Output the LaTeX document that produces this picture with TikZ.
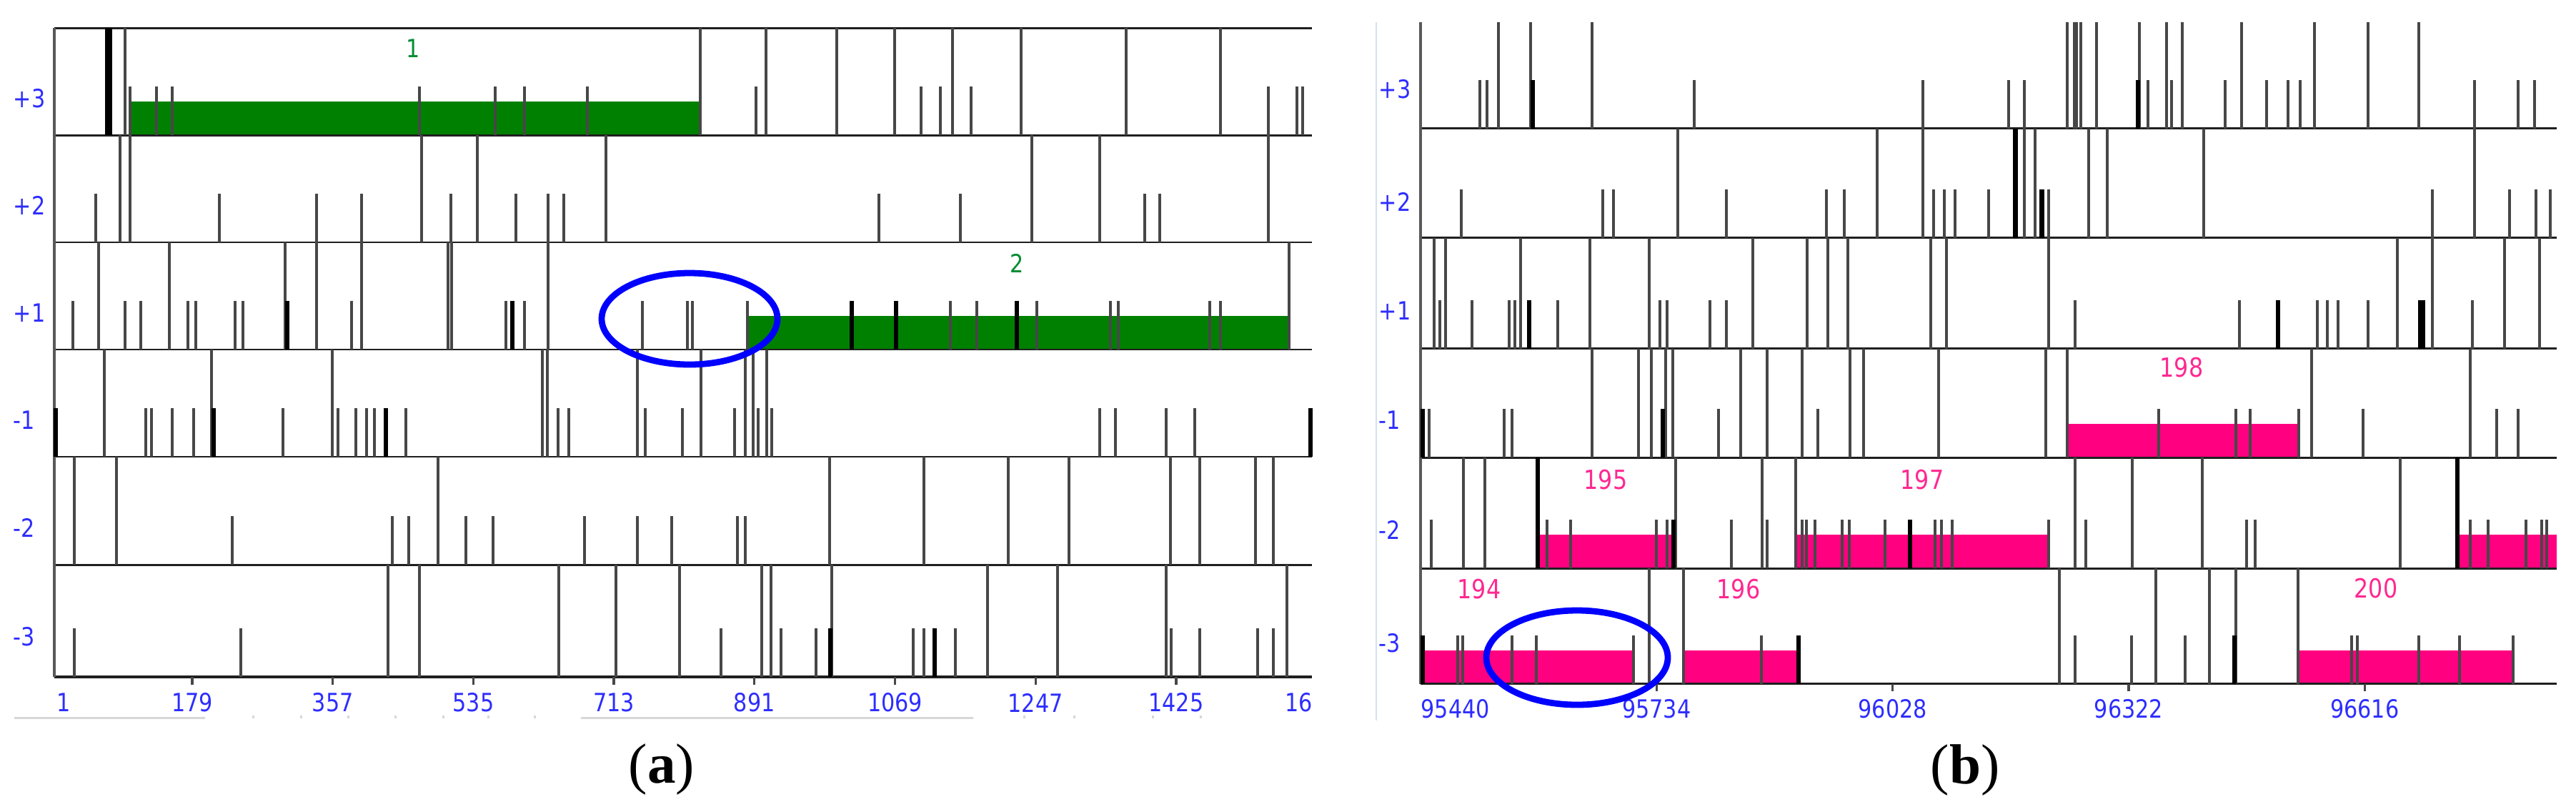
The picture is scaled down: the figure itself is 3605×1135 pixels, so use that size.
\documentclass[tikz,border=0pt]{standalone}
\usepackage{fontspec}
\setmainfont{Liberation Serif}
\newfontfamily\labfont[FakeStretch=0.86]{DejaVu Sans}
\definecolor{axblue}{RGB}{45,45,255}
\definecolor{barpink}{RGB}{255,0,128}
\definecolor{txtpink}{RGB}{255,40,145}
\definecolor{bargreen}{RGB}{0,128,0}
\definecolor{txtgreen}{RGB}{0,140,50}
\definecolor{scrollgrey}{RGB}{215,215,215}
\definecolor{paleblue}{RGB}{210,226,242}
\newcommand\Tall[3]{\foreach \xx in {#3} {\draw[tk] (\xx,#1) -- (\xx,#2);}}
\newcommand\TallK[3]{\foreach \xx in {#3} {\draw[thk] (\xx,#1) -- (\xx,#2);}}
\newcommand\Short[2]{\foreach \xx in {#2} {\draw[tk] (\xx,{#1-68}) -- (\xx,#1);}}
\newcommand\ShortK[2]{\foreach \xx in {#2} {\draw[thk] (\xx,{#1-68}) -- (\xx,#1);}}
\begin{document}
\begin{tikzpicture}[x=0.1mm,y=-0.1mm,
  tk/.style={line width=0.95pt,draw=black!72},
  thk/.style={line width=1.6pt,draw=black},
  rowline/.style={line width=0.8pt,draw=black!88},
  axisline/.style={line width=1pt,draw=black!88},
  axl/.style={font=\labfont\fontsize{10}{12}\selectfont,text=axblue,inner sep=0pt},
  pinkl/.style={font=\labfont\fontsize{10.5}{12}\selectfont,text=txtpink,inner sep=0pt},
  greenl/.style={font=\labfont\fontsize{10}{12}\selectfont,text=txtgreen,inner sep=0pt},
  capt/.style={font=\fontsize{22.5}{27}\selectfont,inner sep=0pt},
  ring/.style={draw=blue,line width=2.5pt}]
\useasboundingbox (0,0) rectangle (3605,1135);

% ================= panel (a) =================
% bars
\fill[bargreen] (183,142.1) rectangle (980,189.1);
\fill[bargreen] (1047,441.9) rectangle (1804,488.9);
% row lines
\foreach \yy in {39.1,189.1,339,488.9,638.9,790.1} {\draw[rowline] (76,\yy) -- (1836,\yy);}
\draw[axisline] (76,947) -- (1836,947);
\draw[line width=1pt,draw=black!65] (76,39.1) -- (76,947);
% row +3
\fill[black] (147,39.1) rectangle (157,189.1);
\Tall{39.1}{189.1}{175,980,1072,1171,1252,1333,1429,1576,1708}
\Short{189.1}{182,219,241,587,693,734,822,1058,1289,1316,1359,1775,1815,1823}
% row +2
\Tall{189.1}{339}{168,182,590,668,848,1444,1539,1775}
\Short{339}{134,307,443,506,631,722,767,789,1230,1344,1602,1623}
% row +1
\Tall{339}{488.9}{138,237,399,443,506,627,632,767,1804}
\Short{488.9}{102,175,197,263,274,329,340,492,708,734,899,962,969,1046,1330,1367,1451,1554,1565,1693,1708}
\ShortK{488.9}{402,717,1192,1254,1423}
% row -1
\Tall{488.9}{638.9}{146,296,465,759,766,892,981,1043,1054,1073}
\Short{638.9}{204,212,241,271,396,473,498,513,524,568,781,796,903,955,1028,1061,1080,1539,1561,1632,1672}
\ShortK{638.9}{78,299,540,1834}
% row -2
\Tall{638.9}{790.1}{104,163,613,1161,1293,1411,1496,1638,1679,1757,1782}
\Short{790.1}{325,549,572,652,690,818,892,940,1032,1043}
% row -3
\Tall{790.1}{947}{543,587,782,862,951,1066,1079,1164,1382,1480,1632,1801}
\Short{947}{104,337,1009,1093,1142,1278,1293,1337,1639,1679,1760,1782}
\ShortK{947}{1162,1308}
% axis ticks
\foreach \i in {0,...,7} {\draw[tk] ({269+196.7*\i},947) -- ({269+196.7*\i},958);}
% scroll line
\draw[scrollgrey,line width=0.85pt] (20,1004) -- (287,1004);
\draw[scrollgrey,line width=0.85pt] (813,1004) -- (1362,1004);
\foreach \xx in {354,421,487,553,620,683,748,1433,1503,1613,1680} {\fill[scrollgrey] (\xx-1.5,1001) rectangle (\xx+1.5,1005);}
% labels
\foreach \t/\yy [count=\i] in {+3/138,+2/287,+1/438,-1/588,-2/738,-3/891} {\node[axl,anchor=west] (ra\i) at (18,\yy) {\t};}
\node[axl,anchor=west] (ax0) at (79,983) {1};
\foreach \t [count=\i] in {179,357,535,713,891,1069,1247,1425} {\node[axl] (ax\i) at ({269+196.7*(\i-1)},983) {\t};}
\node[axl,anchor=west] (ax9) at (1798,983) {16};
\node[greenl] (g1) at (578,68) {1};
\node[greenl] (g2) at (1423,368) {2};
\node[capt] (capa) at (926,1076) {(\textbf{a})};

% ================= panel (b) =================
\draw[paleblue,line width=0.7pt] (1926,31) -- (1926,1008);
% bars
\fill[barpink] (2893,593.1) rectangle (3217,640.1);
\fill[barpink] (2153,748.2) rectangle (2342,795.2);
\fill[barpink] (2514,748.2) rectangle (2866,795.2);
\fill[barpink] (3442,748.2) rectangle (3578,795.2);
\fill[barpink] (1990,909.6) rectangle (2285,956.6);
\fill[barpink] (2357,909.6) rectangle (2515,956.6);
\fill[barpink] (3217,909.6) rectangle (3517,956.6);
% row lines
\foreach \yy in {179.5,332.6,487.7,640.1,795.2} {\draw[rowline] (1988,\yy) -- (3578,\yy);}
\draw[axisline] (1988,956.6) -- (3578,956.6);
\draw[line width=1.1pt,draw=black!65] (1988,31) -- (1988,956.6);
% row +3
\Tall{31}{179.5}{2097,2142,2228,2893,2903,2906,2912,2934,2994,3032,3054,3137,3239,3314,3385}
\Short{179.5}{2071,2081,2371,2691,2811,2833,3006,3039,3114,3172,3202,3219,3463,3524,3547}
\ShortK{179.5}{2145,2992}
% row +2
\fill[black] (2817,179.5) rectangle (2824,332.6);
\fill[black] (2854,264.6) rectangle (2861,332.6);
\Tall{179.5}{332.6}{2348,2627,2691,2833,2848,2923,2949,3084,3463}
\Short{332.6}{2045,2243,2258,2416,2556,2581,2706,2721,2736,2783,2867,3404,3512,3549,3569}
% row +1
\fill[black] (3384,419.7) rectangle (3394,487.7);
\Tall{332.6}{487.7}{2007,2023,2128,2225,2308,2453,2529,2558,2586,2702,2724,2867,3355,3404,3505,3554}
\Short{487.7}{2015,2060,2112,2120,2180,2323,2333,2393,2416,2904,3134,3243,3257,3272,3314,3460}
\ShortK{487.7}{2140,3188}
% row -1
\Tall{487.7}{640.1}{2228,2293,2311,2331,2341,2436,2473,2522,2589,2608,2713,2863,2893,3235,3457}
\Short{640.1}{2000,2105,2116,2405,2544,3021,3129,3149,3217,3307,3494,3524}
\ShortK{640.1}{1991,2327}
% row -2
\Tall{640.1}{795.2}{2048,2078,2345,2466,2513,2904,2984,3082,3359}
\TallK{640.1}{795.2}{2152,3439}
\Short{795.2}{2003,2165,2198,2318,2333,2423,2473,2522,2528,2540,2578,2588,2638,2708,2717,2732,2867,2919,3144,3156,3457,3482,3535,3557,3564}
\ShortK{795.2}{2342,2673}
% row -3
\Tall{795.2}{956.6}{2308,2356,2882,3017,3092,3129,3216}
\Short{956.6}{2040,2047,2116,2150,2286,2465,2904,2983,3058,3291,3299,3385,3442,3517}
\ShortK{956.6}{1991,2517,3127}
% axis ticks
\foreach \i in {1,...,4} {\draw[tk] ({1988+330.3*\i},956.6) -- ({1988+330.3*\i},967);}
% labels
\foreach \t/\yy [count=\i] in {+3/125,+2/282,+1/435,-1/588,-2/741,-3/900} {\node[axl,anchor=west] (rb\i) at (1929,\yy) {\t};}
\node[axl,anchor=west] (bx0) at (1988,992) {95440};
\foreach \t [count=\i] in {95734,96028,96322,96616} {\node[axl] (bx\i) at ({1988+330.3*\i},992) {\t};}
\node[pinkl] (p194) at (2070,824) {194};
\node[pinkl] (p195) at (2247,671) {195};
\node[pinkl] (p196) at (2433,824) {196};
\node[pinkl] (p197) at (2690,671) {197};
\node[pinkl] (p198) at (3053,514) {198};
\node[pinkl] (p200) at (3325,823) {200};
\node[capt] (capb) at (2750,1077) {(\textbf{b})};

% ellipses
\draw[ring] (965,446) ellipse [x radius=123, y radius=64];
\draw[ring] (2207,920) ellipse [x radius=127, y radius=66];
\end{tikzpicture}
\end{document}
